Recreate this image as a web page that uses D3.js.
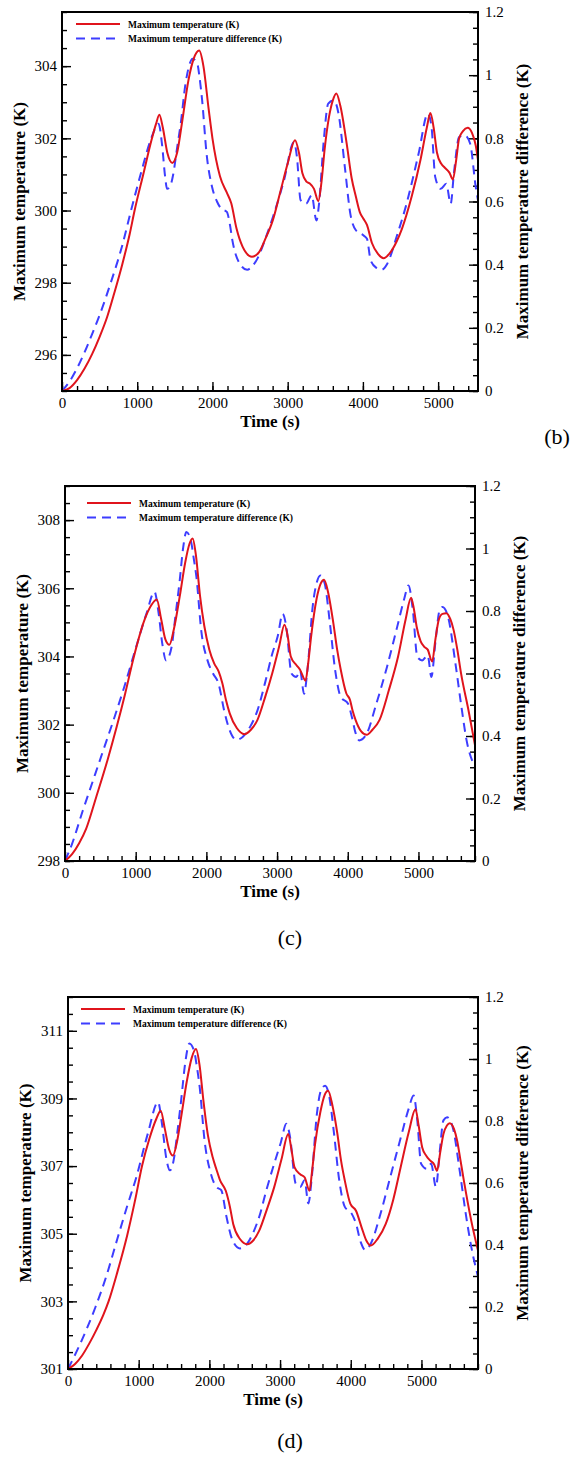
<!DOCTYPE html>
<html>
<head>
<meta charset="utf-8">
<script src="https://cdn.jsdelivr.net/npm/d3@7"></script>
<style>
  body { margin: 0; background: #fff; }
  svg text { font-family: "Liberation Serif", "Times New Roman", Times, serif; fill: #000; }
  .tick line { stroke: #000; }
</style>
</head>
<body>
<div id="chart"></div>
<script>
// ---- data: [time (s), value] ----
const tempB = [[0,295],[100,295.08],[200,295.3],[300,295.62],[400,296.02],[500,296.5],[600,297.05],[700,297.75],[800,298.5],[900,299.35],[965,300],[1080,301],[1196,302],[1250,302.4],[1294,302.65],[1340,302.3],[1400,301.6],[1466,301.32],[1530,301.6],[1600,302.5],[1680,303.6],[1750,304.2],[1824,304.43],[1880,304.0],[1950,302.8],[2000,302.0],[2100,300.95],[2190,300.5],[2250,300.2],[2320,299.5],[2400,299.0],[2525,298.72],[2620,298.85],[2700,299.2],[2804,299.74],[2900,300.5],[3000,301.3],[3098,301.95],[3150,301.6],[3196,301.03],[3250,300.8],[3294,300.75],[3350,300.6],[3407,300.26],[3450,300.8],[3490,301.67],[3550,302.6],[3600,303.05],[3647,303.24],[3700,302.9],[3784,301.86],[3850,300.9],[3907,300.38],[3960,299.95],[4005,299.78],[4054,299.6],[4120,299.1],[4200,298.8],[4275,298.68],[4350,298.8],[4450,299.15],[4520,299.5],[4650,300.4],[4765,301.4],[4850,302.3],[4897,302.7],[4940,302.3],[4985,301.6],[5040,301.3],[5083,301.2],[5150,301.05],[5196,300.86],[5240,301.4],[5279,302.0],[5330,302.2],[5392,302.29],[5450,302.15],[5500,301.8],[5530,301.4]];
const diffB = [[0,0],[100,0.03],[200,0.072],[280,0.112],[400,0.18],[500,0.24],[647,0.342],[800,0.46],[917,0.571],[1050,0.69],[1186,0.8],[1284,0.846],[1330,0.78],[1370,0.68],[1397,0.64],[1440,0.65],[1480,0.688],[1530,0.77],[1578,0.846],[1640,0.97],[1690,1.03],[1735,1.052],[1799,1.036],[1830,0.99],[1863,0.92],[1922,0.751],[1995,0.646],[2060,0.6],[2118,0.577],[2191,0.567],[2230,0.53],[2265,0.477],[2363,0.403],[2461,0.384],[2530,0.395],[2608,0.424],[2700,0.48],[2804,0.551],[2951,0.667],[3083,0.788],[3123,0.741],[3172,0.604],[3245,0.593],[3319,0.62],[3382,0.54],[3417,0.593],[3480,0.794],[3539,0.91],[3613,0.92],[3676,0.878],[3760,0.709],[3833,0.561],[3907,0.509],[4005,0.493],[4054,0.482],[4103,0.414],[4180,0.39],[4250,0.384],[4324,0.403],[4450,0.49],[4569,0.583],[4740,0.751],[4863,0.878],[4912,0.836],[4961,0.678],[5034,0.64],[5108,0.656],[5167,0.593],[5210,0.69],[5279,0.804],[5353,0.81],[5426,0.783],[5500,0.646],[5530,0.604]];

const tempC = [[0,298],[100,298.2],[200,298.52],[300,298.95],[445,299.9],[600,300.95],[733,301.95],[850,302.9],[969,303.95],[1126,305.08],[1220,305.5],[1298,305.67],[1360,305.1],[1420,304.5],[1476,304.34],[1540,304.8],[1623,305.76],[1700,306.75],[1760,307.3],[1806,307.46],[1850,307.0],[1911,305.76],[1970,304.9],[2042,304.2],[2110,303.8],[2173,303.56],[2225,303.22],[2280,302.7],[2330,302.33],[2430,301.9],[2539,301.72],[2630,301.85],[2723,302.14],[2830,302.8],[2932,303.51],[3030,304.3],[3105,304.93],[3150,304.6],[3194,304.0],[3272,303.75],[3325,303.61],[3403,303.29],[3440,303.8],[3482,304.59],[3560,305.7],[3620,306.15],[3665,306.25],[3720,305.9],[3796,304.98],[3850,304.2],[3901,303.61],[3979,302.92],[4031,302.73],[4070,302.4],[4110,302.14],[4190,301.8],[4267,301.7],[4350,301.85],[4450,302.14],[4580,303.0],[4712,304.0],[4820,305.1],[4895,305.72],[4935,305.4],[4974,304.88],[5030,304.45],[5079,304.29],[5131,304.2],[5194,303.85],[5240,304.5],[5288,305.08],[5340,305.25],[5393,305.27],[5450,305.1],[5497,304.78],[5550,304.2],[5602,303.51],[5707,302.43],[5800,301.4]];
const diffC = [[0,0],[100,0.055],[250,0.16],[400,0.26],[550,0.36],[700,0.46],[838,0.557],[1000,0.68],[1150,0.79],[1267,0.861],[1320,0.8],[1380,0.69],[1429,0.642],[1508,0.685],[1560,0.78],[1623,0.898],[1670,1.0],[1717,1.053],[1780,1.026],[1820,0.97],[1859,0.909],[1927,0.738],[2016,0.642],[2094,0.6],[2173,0.567],[2251,0.482],[2330,0.418],[2424,0.388],[2513,0.397],[2620,0.43],[2723,0.482],[2830,0.57],[2932,0.663],[3010,0.72],[3079,0.791],[3131,0.749],[3204,0.6],[3272,0.589],[3325,0.61],[3382,0.535],[3429,0.61],[3508,0.823],[3560,0.89],[3613,0.914],[3675,0.887],[3743,0.77],[3822,0.61],[3901,0.525],[4005,0.503],[4058,0.461],[4110,0.41],[4162,0.386],[4267,0.407],[4400,0.5],[4555,0.621],[4700,0.75],[4800,0.84],[4859,0.882],[4921,0.802],[4984,0.653],[5052,0.642],[5131,0.658],[5183,0.589],[5240,0.7],[5298,0.802],[5340,0.813],[5419,0.781],[5524,0.631],[5602,0.503],[5681,0.386],[5800,0.301]];

const tempD = [[0,301],[100,301.15],[200,301.4],[300,301.75],[400,302.15],[500,302.6],[574,303],[700,303.88],[837,304.95],[950,306.0],[1047,307],[1150,307.8],[1250,308.4],[1311,308.64],[1370,308.1],[1430,307.5],[1484,307.31],[1540,307.7],[1600,308.44],[1680,309.5],[1750,310.2],[1811,310.46],[1860,310.0],[1916,308.93],[1980,307.9],[2047,307.26],[2100,306.9],[2153,306.57],[2232,306.27],[2290,305.8],[2337,305.29],[2430,304.85],[2537,304.69],[2620,304.8],[2705,305.09],[2810,305.7],[2916,306.37],[3020,307.2],[3116,307.95],[3160,307.5],[3205,306.96],[3284,306.76],[3347,306.67],[3416,306.27],[3450,306.8],[3495,307.65],[3570,308.6],[3630,309.1],[3679,309.23],[3740,308.8],[3811,307.95],[3860,307.2],[3916,306.57],[3995,305.88],[4074,305.68],[4153,305.19],[4220,304.8],[4284,304.65],[4380,304.85],[4495,305.29],[4600,306.0],[4705,306.96],[4820,308.0],[4916,308.68],[4960,308.2],[5011,307.55],[5070,307.3],[5126,307.16],[5180,307.05],[5221,306.86],[5265,307.4],[5311,307.95],[5360,308.2],[5400,308.27],[5460,308.1],[5505,307.75],[5550,307.2],[5600,306.57],[5705,305.38],[5800,304.5]];
const diffD = [[0,0],[150,0.07],[389,0.2],[550,0.305],[679,0.405],[830,0.52],[968,0.62],[1130,0.76],[1274,0.861],[1330,0.79],[1390,0.68],[1442,0.641],[1500,0.68],[1545,0.76],[1600,0.866],[1660,0.99],[1716,1.05],[1785,1.025],[1820,0.98],[1863,0.909],[1932,0.737],[2021,0.63],[2100,0.587],[2168,0.577],[2242,0.491],[2326,0.416],[2432,0.389],[2537,0.405],[2620,0.44],[2705,0.491],[2810,0.58],[2916,0.662],[3010,0.73],[3089,0.791],[3140,0.75],[3221,0.598],[3284,0.587],[3347,0.609],[3400,0.534],[3445,0.609],[3521,0.823],[3580,0.9],[3637,0.914],[3695,0.88],[3758,0.77],[3837,0.609],[3916,0.523],[4011,0.502],[4074,0.469],[4140,0.41],[4205,0.384],[4284,0.405],[4420,0.5],[4547,0.609],[4700,0.74],[4820,0.84],[4889,0.882],[4942,0.8],[4995,0.662],[5074,0.646],[5137,0.662],[5205,0.587],[5258,0.7],[5311,0.802],[5363,0.812],[5442,0.78],[5547,0.63],[5626,0.502],[5705,0.394],[5800,0.298]];

const timeTicks = [0, 1000, 2000, 3000, 4000, 5000];
const diffTicks = [0, 0.2, 0.4, 0.6, 0.8, 1, 1.2];
const legendLabels = ['Maximum temperature (K)', 'Maximum temperature difference (K)'];

const RED = '#e0141c', BLUE = '#3d3dff';

const svg = d3.select('#chart').append('svg')
    .attr('width', 577)
    .attr('height', 1463);

function drawPanel(cfg) {
  const g = svg.append('g');
  const x = d3.scaleLinear().domain([0, cfg.xMax]).range([cfg.x0, cfg.x1]);
  const y = d3.scaleLinear().domain(cfg.yDomain).range([cfg.y1, cfg.y0]);
  const y2 = d3.scaleLinear().domain([0, 1.2]).range([cfg.y1, cfg.y0]);

  // minor ticks (all inside the frame)
  const minor = (axis, ticks) => axis.tickValues(ticks).tickFormat('').tickSizeOuter(0);
  g.append('g').attr('transform', `translate(0,${cfg.y1})`)
      .call(minor(d3.axisBottom(x), d3.range(0, cfg.xMax + 1, 200)).tickSize(-5))
      .call(a => a.select('.domain').remove());
  g.append('g').attr('transform', `translate(${cfg.x0},0)`)
      .call(minor(d3.axisLeft(y), d3.range(cfg.yDomain[0], cfg.yDomain[1] + 0.01, 0.5)).tickSize(-5))
      .call(a => a.select('.domain').remove());
  g.append('g').attr('transform', `translate(${cfg.x1},0)`)
      .call(minor(d3.axisRight(y2), d3.range(0, 1.21, 0.05)).tickSize(-5))
      .call(a => a.select('.domain').remove());

  // major ticks with labels
  g.append('g').attr('transform', `translate(0,${cfg.y1})`)
      .call(d3.axisBottom(x).tickValues(timeTicks).tickFormat(d3.format('d'))
          .tickSize(-9).tickSizeOuter(0).tickPadding(6))
      .call(a => a.select('.domain').remove())
      .selectAll('text').style('font-size', '15px');
  g.append('g').attr('transform', `translate(${cfg.x0},0)`)
      .call(d3.axisLeft(y).tickValues(cfg.yTicks).tickSize(-9).tickSizeOuter(0).tickPadding(5))
      .call(a => a.select('.domain').remove())
      .selectAll('text').style('font-size', '15px');
  g.append('g').attr('transform', `translate(${cfg.x1},0)`)
      .call(d3.axisRight(y2).tickValues(diffTicks).tickFormat(d3.format('~g'))
          .tickSize(-9).tickSizeOuter(0).tickPadding(7))
      .call(a => a.select('.domain').remove())
      .selectAll('text').style('font-size', '15px');
  g.selectAll('.tick line').attr('stroke-width', 1.4);

  // curves
  const clipId = 'clip' + cfg.key;
  g.append('clipPath').attr('id', clipId).append('rect')
      .attr('x', cfg.x0).attr('y', cfg.y0)
      .attr('width', cfg.x1 - cfg.x0).attr('height', cfg.y1 - cfg.y0);

  g.append('path')
      .datum(cfg.diff)
      .attr('clip-path', `url(#${clipId})`)
      .attr('fill', 'none')
      .attr('stroke', BLUE)
      .attr('stroke-width', 2)
      .attr('stroke-dasharray', '9,6')
      .attr('d', d3.line().x(d => x(d[0])).y(d => y2(d[1])).curve(d3.curveMonotoneX));

  g.append('path')
      .datum(cfg.temp)
      .attr('clip-path', `url(#${clipId})`)
      .attr('fill', 'none')
      .attr('stroke', RED)
      .attr('stroke-width', 2)
      .attr('d', d3.line().x(d => x(d[0])).y(d => y(d[1])).curve(d3.curveMonotoneX));

  // frame
  g.append('rect')
      .attr('x', cfg.x0).attr('y', cfg.y0)
      .attr('width', cfg.x1 - cfg.x0).attr('height', cfg.y1 - cfg.y0)
      .attr('fill', 'none').attr('stroke', '#000').attr('stroke-width', 2);

  // legend
  const lg = g.append('g').attr('transform', `translate(${cfg.x0 + cfg.legend[0]},${cfg.y0 + cfg.legend[1]})`);
  [RED, BLUE].forEach((c, i) => {
    lg.append('line')
        .attr('x1', 0).attr('x2', 44)
        .attr('y1', i * 14.5).attr('y2', i * 14.5)
        .attr('stroke', c).attr('stroke-width', 2)
        .attr('stroke-dasharray', i ? '9,6' : null);
    lg.append('text')
        .attr('x', 52).attr('y', i * 14.5 + 3.5)
        .style('font-size', '9.5px').style('font-weight', 'bold')
        .text(legendLabels[i]);
  });

  // axis titles
  g.append('text')
      .attr('x', (cfg.x0 + cfg.x1) / 2).attr('y', cfg.y1 + 36)
      .attr('text-anchor', 'middle')
      .style('font-size', '17px').style('font-weight', 'bold')
      .text('Time (s)');
  g.append('text')
      .attr('transform', `translate(${cfg.x0 - 37},${(cfg.y0 + cfg.y1) / 2}) rotate(-90)`)
      .attr('text-anchor', 'middle')
      .style('font-size', '17px').style('font-weight', 'bold')
      .text('Maximum temperature (K)');
  g.append('text')
      .attr('transform', `translate(${cfg.x1 + 50},${(cfg.y0 + cfg.y1) / 2}) rotate(-90)`)
      .attr('text-anchor', 'middle')
      .style('font-size', '17px').style('font-weight', 'bold')
      .text('Maximum temperature difference (K)');

  // panel letter
  g.append('text')
      .attr('x', cfg.tag[0]).attr('y', cfg.tag[1])
      .attr('text-anchor', 'middle')
      .style('font-size', '22px')
      .text(cfg.name);
}

drawPanel({key: 'b', name: '(b)', x0: 62, x1: 478, y0: 12, y1: 391, xMax: 5530,
  yDomain: [295, 305.5], yTicks: [296, 298, 300, 302, 304],
  temp: tempB, diff: diffB, legend: [14, 12], tag: [557, 444]});
drawPanel({key: 'c', name: '(c)', x0: 65, x1: 475, y0: 486, y1: 861, xMax: 5800,
  yDomain: [298, 309], yTicks: [298, 300, 302, 304, 306, 308],
  temp: tempC, diff: diffC, legend: [22, 17], tag: [290, 945]});
drawPanel({key: 'd', name: '(d)', x0: 68, x1: 478, y0: 997, y1: 1369, xMax: 5800,
  yDomain: [301, 312], yTicks: [301, 303, 305, 307, 309, 311],
  temp: tempD, diff: diffD, legend: [13, 12], tag: [290, 1448]});
</script>
</body>
</html>
